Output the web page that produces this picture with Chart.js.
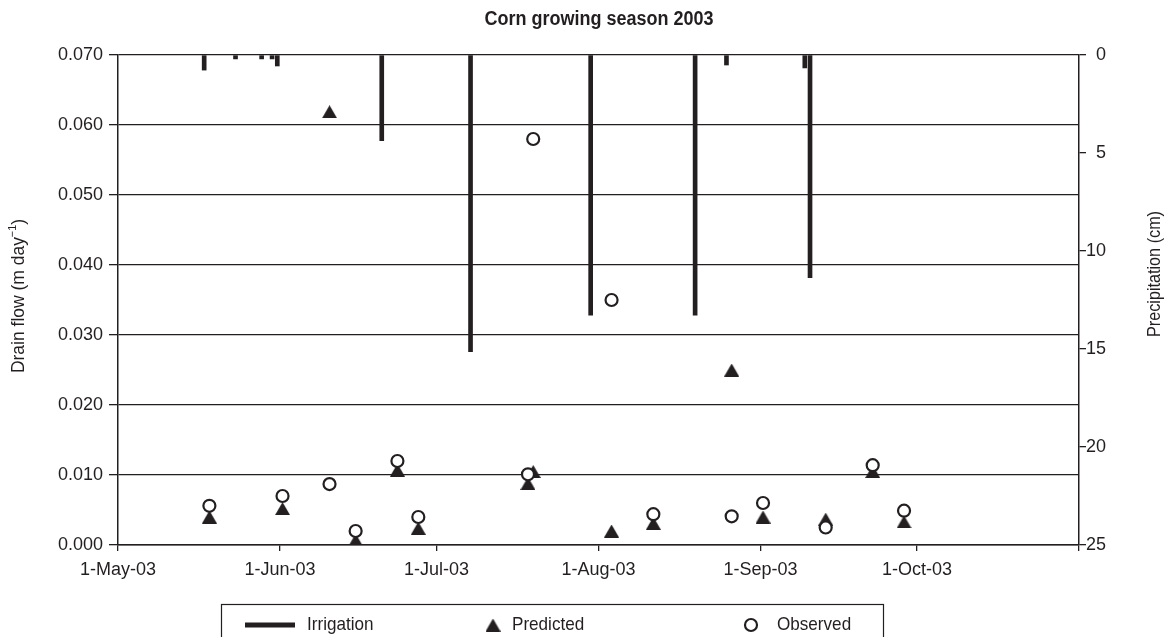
<!DOCTYPE html>
<html>
<head>
<meta charset="utf-8">
<script src="https://cdn.jsdelivr.net/npm/chart.js@4.4.1/dist/chart.umd.min.js"></script>
<style>
  html, body { margin: 0; padding: 0; background: #ffffff; }
  #wrap { width: 1170px; height: 637px; position: relative; }
</style>
</head>
<body>
<div id="wrap"><canvas id="chart" width="1170" height="637"></canvas></div>
<script>
// ---- season data -------------------------------------------------------
const seasonStart = '2003-05-01';
const monthTicks  = ['2003-05-01', '2003-06-01', '2003-07-01', '2003-08-01', '2003-09-01', '2003-10-01', '2003-11-01'];
const monthLabels = ['1-May-03', '1-Jun-03', '1-Jul-03', '1-Aug-03', '1-Sep-03', '1-Oct-03', ''];

const flowTicks   = [0, 0.01, 0.02, 0.03, 0.04, 0.05, 0.06, 0.07];
const precipTicks = [0, 5, 10, 15, 20, 25];

// irrigation / precipitation events (cm)
const irrigationDates = ['2003-05-17', '2003-05-23', '2003-05-28', '2003-05-30', '2003-05-31', '2003-06-20',
                         '2003-07-07', '2003-07-30', '2003-08-19', '2003-08-25', '2003-09-09', '2003-09-10'];
const irrigationCm    = [0.77, 0.2, 0.2, 0.2, 0.56, 4.37, 15.14, 13.27, 13.27, 0.51, 0.66, 11.36];

// drain flow (m day-1)
const flowDates = ['2003-05-18', '2003-06-01', '2003-06-10', '2003-06-15', '2003-06-23', '2003-06-27', '2003-07-18',
                   '2003-07-19', '2003-08-03', '2003-08-11', '2003-08-26', '2003-09-01', '2003-09-13', '2003-09-22',
                   '2003-09-28'];
const predicted = [0.0040, 0.0052, 0.0619, 0.0007, 0.0107, 0.0024, 0.0088, 0.0105, 0.0020, 0.0031, 0.0250, 0.0040,
                   0.0037, 0.0105, 0.0033];
const observed  = [0.0056, 0.0070, 0.0087, 0.0020, 0.0120, 0.0040, 0.0101, 0.0580, 0.0350, 0.0044, 0.0041, 0.0060,
                   0.0025, 0.0114, 0.0049];

// ---- helpers -------------------------------------------------------------
const ink  = '#231f20';
const sans = "'Liberation Sans', Arial, Helvetica, sans-serif";
const DAY  = 86400000;

function dayOffset(iso) {
  const [y, m, d] = iso.split('-').map(Number);
  const [y0, m0, d0] = seasonStart.split('-').map(Number);
  return (Date.UTC(y, m - 1, d) - Date.UTC(y0, m0 - 1, d0)) / DAY;
}
// a daily value sits in the middle of its day
const dayCentre = iso => dayOffset(iso) + 0.5;

const tickDays  = monthTicks.map(dayOffset);
const totalDays = tickDays[tickDays.length - 1];

// filled triangle marker, centred on its bounding box
function triangleSprite(w, h) {
  const c = document.createElement('canvas');
  c.width = w; c.height = h;
  const g = c.getContext('2d');
  g.fillStyle = ink;
  g.beginPath();
  g.moveTo(w / 2, 0);
  g.lineTo(w, h);
  g.lineTo(0, h);
  g.closePath();
  g.fill();
  return c;
}
const triangle = triangleSprite(15, 13);

// narrow text, optionally rotated, with superscript parts
function drawLabel(ctx, parts, x, y, o) {
  ctx.save();
  ctx.translate(x, y);
  if (o.rot) ctx.rotate(o.rot);
  ctx.scale(o.sx || 1, 1);
  const fontFor = p => `${o.weight || 'normal'} ${p.sup ? o.size * 0.62 : o.size}px ${sans}`;
  let total = 0;
  for (const p of parts) { ctx.font = fontFor(p); total += ctx.measureText(p.t).width; }
  let cx = o.align === 'left' ? 0 : o.align === 'right' ? -total : -total / 2;
  ctx.fillStyle = ink;
  ctx.textBaseline = 'middle';
  ctx.textAlign = 'left';
  for (const p of parts) {
    ctx.font = fontFor(p);
    ctx.fillText(p.t, cx, p.sup ? -o.size * 0.32 : 0);
    cx += ctx.measureText(p.t).width;
  }
  ctx.restore();
}

// title, axis titles and the boxed legend
const annotations = {
  id: 'annotations',
  afterDraw(chart) {
    const ctx = chart.ctx;
    drawLabel(ctx, [{ t: 'Corn growing season 2003' }], 599, 19, { size: 20, weight: 'bold', sx: 0.9 });
    drawLabel(ctx, [{ t: 'Drain flow (m day' }, { t: '\u22121', sup: true }, { t: ')' }], 19, 296,
              { size: 19, sx: 0.92, rot: -Math.PI / 2 });
    drawLabel(ctx, [{ t: 'Precipitation (cm)' }], 1155, 274, { size: 18, sx: 0.9, rot: -Math.PI / 2 });

    // legend frame
    ctx.save();
    ctx.strokeStyle = ink;
    ctx.lineWidth = 1.2;
    ctx.strokeRect(221.5, 604.5, 662, 44);
    ctx.restore();

    const ds = chart.data.datasets;
    const ly = 625;
    // irrigation swatch
    ctx.save();
    ctx.fillStyle = ds[2].backgroundColor;
    ctx.fillRect(245, ly - 2.5, 50, 5);
    ctx.restore();
    drawLabel(ctx, [{ t: ds[2].label }], 307, ly, { size: 19, sx: 0.9, align: 'left' });
    // predicted marker
    ctx.drawImage(triangle, 493 - triangle.width / 2, ly - triangle.height / 2);
    drawLabel(ctx, [{ t: ds[1].label }], 512, ly, { size: 19, sx: 0.9, align: 'left' });
    // observed marker
    ctx.save();
    ctx.beginPath();
    ctx.arc(751, ly, ds[0].pointRadius, 0, Math.PI * 2);
    ctx.fillStyle = ds[0].pointBackgroundColor;
    ctx.fill();
    ctx.lineWidth = ds[0].pointBorderWidth;
    ctx.strokeStyle = ds[0].pointBorderColor;
    ctx.stroke();
    ctx.restore();
    drawLabel(ctx, [{ t: ds[0].label }], 777, ly, { size: 19, sx: 0.9, align: 'left' });
  }
};

const tickFont = { family: sans, size: 18 };

new Chart(document.getElementById('chart'), {
  type: 'scatter',
  data: {
    datasets: [
      {
        type: 'scatter',
        label: 'Observed',
        order: 0,
        yAxisID: 'y',
        data: flowDates.map((d, i) => ({ x: dayCentre(d), y: observed[i] })),
        pointStyle: 'circle',
        pointRadius: 6,
        pointBorderWidth: 2.2,
        pointBackgroundColor: '#ffffff',
        pointBorderColor: ink
      },
      {
        type: 'scatter',
        label: 'Predicted',
        order: 1,
        yAxisID: 'y',
        data: flowDates.map((d, i) => ({ x: dayCentre(d), y: predicted[i] })),
        pointStyle: triangle,
        pointRadius: 7
      },
      {
        type: 'bar',
        label: 'Irrigation',
        order: 2,
        yAxisID: 'y2',
        data: irrigationDates.map((d, i) => ({ x: dayCentre(d), y: irrigationCm[i] })),
        backgroundColor: ink,
        borderWidth: 0,
        barThickness: 4
      }
    ]
  },
  options: {
    responsive: false,
    animation: false,
    events: [],
    // right padding leaves room for the precipitation axis title
    layout: { padding: { top: 55, left: 0, right: 64, bottom: 0 } },
    plugins: {
      legend: { display: false },
      title: { display: false },
      tooltip: { enabled: false }
    },
    scales: {
      x: {
        type: 'linear',
        position: 'bottom',
        min: 0,
        max: totalDays,
        offset: false,
        afterBuildTicks: s => { s.ticks = tickDays.map(v => ({ value: v })); },
        afterFit: s => { s.height = 92; },
        ticks: {
          autoSkip: false,
          maxRotation: 0,
          padding: 8,
          color: ink,
          font: tickFont,
          callback: (v, i) => monthLabels[i]
        },
        grid: { offset: false, drawOnChartArea: false, tickLength: 6, color: ink, lineWidth: 1.3 },
        border: { color: ink, width: 1.5 }
      },
      y: {
        type: 'linear',
        position: 'left',
        min: 0,
        max: 0.07,
        afterBuildTicks: s => { s.ticks = flowTicks.map(v => ({ value: v })); },
        afterFit: s => { s.width = 118; },
        ticks: { padding: 6, color: ink, font: tickFont, callback: v => v.toFixed(3) },
        grid: { color: ink, lineWidth: 1.3, tickLength: 9 },
        border: { color: ink, width: 1.5 }
      },
      y2: {
        type: 'linear',
        position: 'right',
        min: 0,
        max: 25,
        reverse: true,
        afterBuildTicks: s => { s.ticks = precipTicks.map(v => ({ value: v })); },
        afterFit: s => { s.width = 27; },
        ticks: { padding: 4, crossAlign: 'far', color: ink, font: tickFont, callback: v => String(v) },
        grid: { drawOnChartArea: false, color: ink, lineWidth: 1.3, tickLength: 7 },
        border: { color: ink, width: 1.5 }
      }
    }
  },
  plugins: [annotations]
});
</script>
</body>
</html>
